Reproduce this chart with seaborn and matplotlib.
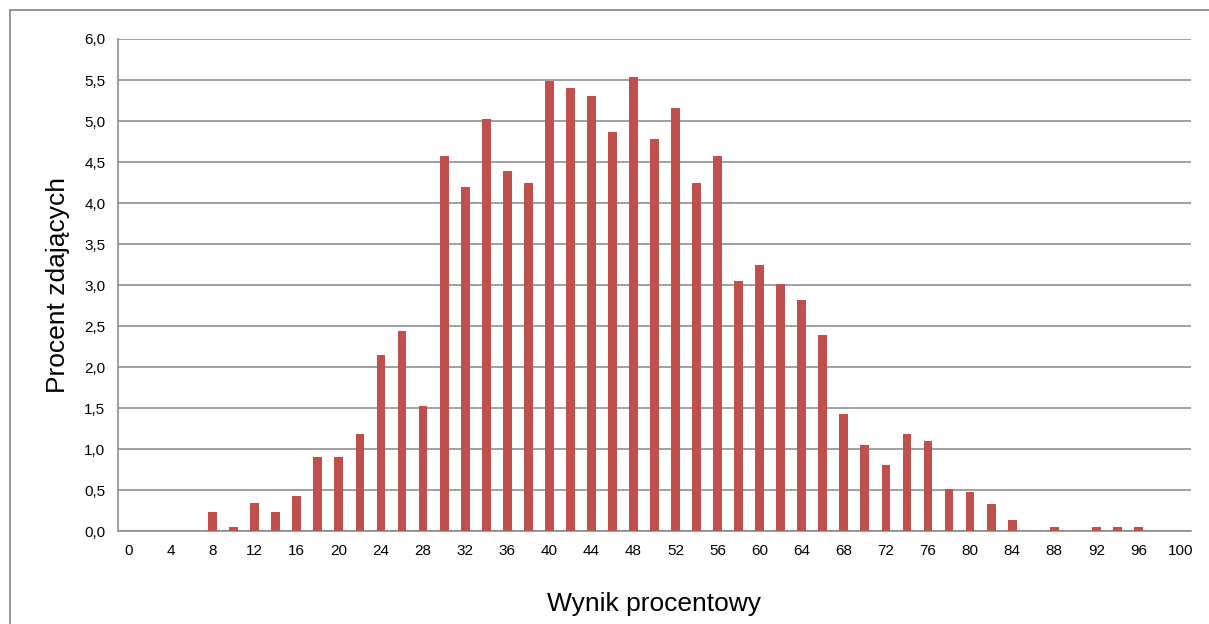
import matplotlib
matplotlib.use("Agg")
import matplotlib.pyplot as plt
import matplotlib.patches as mpatches
import numpy as np
import pandas as pd
import seaborn as sns

# score categories (percent) and share of students in each
wynik = list(range(0, 101, 2))
procent = [0, 0, 0, 0, 0.24, 0.05, 0.34, 0.24, 0.43, 0.91,
           0.91, 1.19, 2.15, 2.44, 1.53, 4.58, 4.20, 5.02, 4.39, 4.25,
           5.49, 5.40, 5.30, 4.87, 5.54, 4.78, 5.16, 4.25, 4.58, 3.05,
           3.25, 3.01, 2.82, 2.39, 1.43, 1.05, 0.81, 1.19, 1.10, 0.52,
           0.48, 0.33, 0.14, 0, 0.05, 0, 0.05, 0.05, 0.05, 0, 0]
y_ticks = [0, 0.5, 1.0, 1.5, 2.0, 2.5, 3.0, 3.5, 4.0, 4.5, 5.0, 5.5, 6.0]

df = pd.DataFrame({"wynik": [str(w) for w in wynik], "procent": procent})

sns.set_style("white")
plt.rcParams['font.family'] = ['Liberation Sans', 'DejaVu Sans']
plt.rcParams['text.color'] = 'black'
plt.rcParams['axes.labelcolor'] = 'black'
plt.rcParams['xtick.color'] = 'black'
plt.rcParams['ytick.color'] = 'black'

grey = "#868686"
fig = plt.figure(figsize=(12.09, 6.24), dpi=100)
ax = fig.add_axes([0.0976, 0.1486, 0.8875, 0.7889])

sns.barplot(data=df, x="wynik", y="procent", order=df["wynik"], color="#C0504D",
            saturation=1, width=0.42, linewidth=0, ax=ax, zorder=3)

ax.set_xlim(-0.5, len(wynik) - 0.5)
ax.set_ylim(0, 6.0)
ax.set_yticks(y_ticks)
ax.set_yticklabels([f"{v:.1f}".replace(".", ",") for v in y_ticks], fontsize=11)
ax.yaxis.grid(True, color=grey, linewidth=1.1, zorder=0)
ax.set_axisbelow(True)

# tick marks at category boundaries, labels under every second category
ax.set_xticks(np.arange(-0.5, len(wynik), 1.0))
ax.set_xticklabels([])
ax.set_xticks(np.arange(0, len(wynik), 2), minor=True)
ax.set_xticklabels([str(w) for w in wynik[::2]], minor=True, fontsize=11)
ax.tick_params(axis="x", which="major", length=5, width=1, color=grey, direction="out")
ax.tick_params(axis="x", which="minor", length=0, pad=9)
ax.tick_params(axis="y", length=5, width=1, color=grey, direction="out", pad=4)

for s in ["top", "right"]:
    ax.spines[s].set_visible(False)
for s in ["left", "bottom"]:
    ax.spines[s].set_color(grey)
    ax.spines[s].set_linewidth(1.1)

ax.set_xlabel("Wynik procentowy", fontsize=19, labelpad=25)
ax.set_ylabel("Procent zdających", fontsize=19, labelpad=10)

# outer chart frame, cut at right and bottom edges
fig.patches.append(mpatches.Rectangle((10 / 1209, -0.05), 1.2, 0.05 + 614 / 624,
                                      transform=fig.transFigure, fill=False,
                                      edgecolor="#8c8c8c", linewidth=1.3))

fig.savefig("out.png", dpi=100)
